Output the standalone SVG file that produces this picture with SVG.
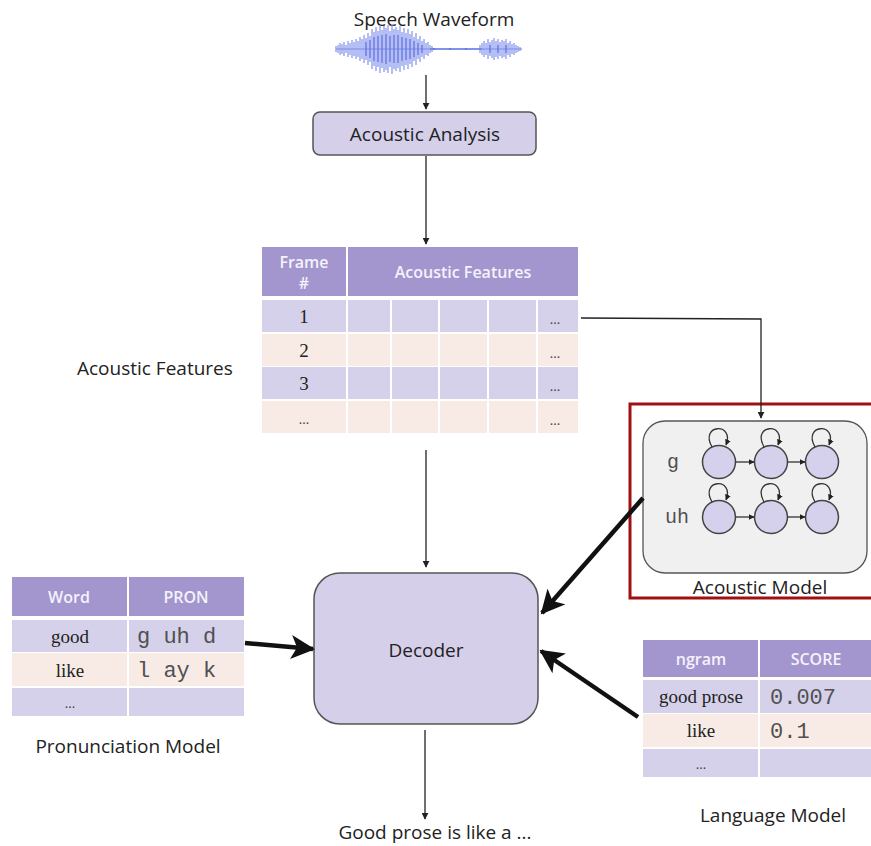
<svg xmlns="http://www.w3.org/2000/svg" width="871" height="846" viewBox="0 0 871 846">
  <style>
    .lbl { font-family: "Open Sans", "Liberation Sans", sans-serif; font-size: 19px; fill: #222; }
    .hdr { font-family: "Open Sans", "Liberation Sans", sans-serif; font-size: 16px; font-weight: 600; fill: #f4f2fa; }
    .ser { font-family: "Liberation Serif", "Times New Roman", serif; font-size: 19px; fill: #222; }
    .dots { font-family: "Liberation Serif", serif; font-size: 14px; fill: #444; }
    .mono { font-family: "Liberation Mono", "Courier New", monospace; font-size: 22px; fill: #505050; }
    .th { fill: #a396cf; }
    .rl { fill: #d6d1ea; }
    .rp { fill: #f8ebe6; }
    .box { fill: #d5cfea; stroke: #555; stroke-width: 1.5; }
    .thin { stroke: #222; stroke-width: 1.3; fill: none; }
    .thick { stroke: #111; stroke-width: 4.5; fill: none; }
    .state { fill: #d5d1ec; stroke: #444; stroke-width: 1.5; }
    .loop { stroke: #333; stroke-width: 1.3; fill: none; }
    .wave { stroke: #8e9ced; stroke-width: 1.3; }
    .wave2 { stroke: #5d6fe2; stroke-width: 1.2; }
  </style>
  <defs>
    <marker id="ah" viewBox="0 0 10 10" refX="9" refY="5" markerWidth="7" markerHeight="7" markerUnits="userSpaceOnUse" orient="auto">
      <path d="M0,0 L10,5 L0,10 z" fill="#222"/>
    </marker>
    <marker id="ahs" viewBox="0 0 10 10" refX="9" refY="5" markerWidth="6" markerHeight="6" markerUnits="userSpaceOnUse" orient="auto">
      <path d="M0,0 L10,5 L0,10 z" fill="#222"/>
    </marker>
    <marker id="big" viewBox="0 0 12 12" refX="11" refY="6" markerWidth="24" markerHeight="24" markerUnits="userSpaceOnUse" orient="auto">
      <path d="M0,0 L12,6 L0,12 L3,6 z" fill="#111"/>
    </marker>
    <g id="selfloop">
      <path class="loop" d="M-7,-15 C-20,-38 16,-40 7,-17" marker-end="url(#ahs)"/>
    </g>
    <filter id="soft" x="-5%" y="-20%" width="110%" height="140%">
      <feGaussianBlur stdDeviation="0.7"/>
    </filter>
  </defs>

  <rect width="871" height="846" fill="#ffffff"/>

  <!-- speech waveform input -->
  <g id="waveform">
    <text class="lbl" x="434" y="26" text-anchor="middle">Speech Waveform</text>
    <g filter="url(#soft)">
      <line class="wave" x1="336" y1="49" x2="522" y2="49"/>
      <path class="wave" d="M336,46v6 M338,45v8 M340,43v12 M342,44v10 M344,42v14 M346,45v8 M348,41v16 M350,43v12 M352,40v18 M354,42v14 M356,39v20 M358,41v16 M360,37v24 M362,39v20 M364,35v28 M366,38v22 M368,33v32 M370,36v26 M372,29v40 M374,32v34 M376,27v44 M378,31v36 M380,25v48 M382,30v38 M384,26v46 M386,28v42 M388,25v48 M390,31v36 M392,24v50 M394,29v40 M396,27v44 M398,30v38 M400,26v46 M402,32v34 M404,28v42 M406,33v32 M408,29v40 M410,34v30 M412,31v36 M414,37v24 M416,33v32 M418,39v20 M420,36v26 M422,41v16 M424,39v20 M426,43v12 M428,42v14 M430,45v8 M432,46v6 M480,45v8 M482,43v12 M484,41v16 M486,43v12 M488,39v20 M490,42v14 M492,40v18 M494,38v22 M496,41v16 M498,39v20 M500,42v14 M502,40v18 M504,41v16 M506,39v20 M508,43v12 M510,41v16 M512,44v10 M514,43v12 M516,45v8 M518,46v6 M520,47v4"/>
      <path class="wave2" d="M366,42v14 M370,40v18 M374,37v24 M378,36v26 M382,35v28 M386,34v30 M390,36v26 M394,35v28 M398,35v28 M402,37v24 M406,38v22 M410,39v20 M414,41v16 M418,43v12 M422,45v8 M434,48v2 M450,48v2 M466,48v2 M490,45v8 M498,45v8 M506,45v8"/>
      <line class="wave2" x1="430" y1="49" x2="482" y2="49"/>
    </g>
  </g>

  <!-- acoustic analysis -->
  <g id="acoustic-analysis">
    <rect class="box" x="313" y="112" width="223" height="43" rx="7"/>
    <text class="lbl" x="425" y="141" text-anchor="middle">Acoustic Analysis</text>
  </g>

  <!-- feature frame table -->
  <g id="feature-table">
    <rect class="th" x="262" y="247" width="84" height="49"/>
    <rect class="th" x="348" y="247" width="230" height="49"/>
    <text class="hdr" x="304" y="268" text-anchor="middle">Frame</text>
    <text class="hdr" x="304" y="289" text-anchor="middle">#</text>
    <text class="hdr" x="463" y="278" text-anchor="middle">Acoustic Features</text>

    <g class="rl">
      <rect x="262" y="300" width="84" height="32"/>
      <rect x="348" y="300" width="42" height="32"/>
      <rect x="392" y="300" width="46" height="32"/>
      <rect x="440" y="300" width="47" height="32"/>
      <rect x="489" y="300" width="47" height="32"/>
      <rect x="538" y="300" width="40" height="32"/>
      <rect x="262" y="367" width="84" height="32"/>
      <rect x="348" y="367" width="42" height="32"/>
      <rect x="392" y="367" width="46" height="32"/>
      <rect x="440" y="367" width="47" height="32"/>
      <rect x="489" y="367" width="47" height="32"/>
      <rect x="538" y="367" width="40" height="32"/>
    </g>
    <g class="rp">
      <rect x="262" y="334" width="84" height="32"/>
      <rect x="348" y="334" width="42" height="32"/>
      <rect x="392" y="334" width="46" height="32"/>
      <rect x="440" y="334" width="47" height="32"/>
      <rect x="489" y="334" width="47" height="32"/>
      <rect x="538" y="334" width="40" height="32"/>
      <rect x="262" y="401" width="84" height="32"/>
      <rect x="348" y="401" width="42" height="32"/>
      <rect x="392" y="401" width="46" height="32"/>
      <rect x="440" y="401" width="47" height="32"/>
      <rect x="489" y="401" width="47" height="32"/>
      <rect x="538" y="401" width="40" height="32"/>
    </g>
    <text class="ser" x="304" y="323" text-anchor="middle">1</text>
    <text class="ser" x="304" y="357" text-anchor="middle">2</text>
    <text class="ser" x="304" y="390" text-anchor="middle">3</text>
    <text class="dots" x="304" y="424" text-anchor="middle">...</text>
    <text class="dots" x="555" y="324" text-anchor="middle">...</text>
    <text class="dots" x="555" y="358" text-anchor="middle">...</text>
    <text class="dots" x="555" y="391" text-anchor="middle">...</text>
    <text class="dots" x="555" y="425" text-anchor="middle">...</text>
  </g>
  <text class="lbl" x="77" y="375">Acoustic Features</text>

  <!-- acoustic model (HMM) -->
  <g id="acoustic-model">
    <rect x="630" y="404" width="250" height="194" fill="none" stroke="#a01010" stroke-width="3"/>
    <rect x="643" y="421" width="224" height="152" rx="22" fill="#f0f0f0" stroke="#555" stroke-width="1.3"/>
    <text class="mono" x="667" y="468" style="font-size:20px">g</text>
    <text class="mono" x="665" y="523" style="font-size:20px">uh</text>
    <g id="hmm-g">
      <circle class="state" cx="719" cy="462" r="16.5"/>
      <circle class="state" cx="771" cy="462" r="16.5"/>
      <circle class="state" cx="822" cy="462" r="16.5"/>
      <use href="#selfloop" x="719" y="462"/>
      <use href="#selfloop" x="771" y="462"/>
      <use href="#selfloop" x="822" y="462"/>
      <line class="loop" x1="735.5" y1="462" x2="754" y2="462" marker-end="url(#ahs)"/>
      <line class="loop" x1="787.5" y1="462" x2="805" y2="462" marker-end="url(#ahs)"/>
    </g>
    <g id="hmm-uh">
      <circle class="state" cx="719" cy="517" r="16.5"/>
      <circle class="state" cx="771" cy="517" r="16.5"/>
      <circle class="state" cx="822" cy="517" r="16.5"/>
      <use href="#selfloop" x="719" y="517"/>
      <use href="#selfloop" x="771" y="517"/>
      <use href="#selfloop" x="822" y="517"/>
      <line class="loop" x1="735.5" y1="517" x2="754" y2="517" marker-end="url(#ahs)"/>
      <line class="loop" x1="787.5" y1="517" x2="805" y2="517" marker-end="url(#ahs)"/>
    </g>
    <text class="lbl" x="760" y="594" text-anchor="middle">Acoustic Model</text>
  </g>

  <!-- decoder -->
  <g id="decoder">
    <rect class="box" x="314" y="573" width="224" height="151" rx="26"/>
    <text class="lbl" x="426" y="657" text-anchor="middle">Decoder</text>
  </g>

  <!-- pronunciation model -->
  <g id="pronunciation-model">
    <rect class="th" x="12" y="577" width="115" height="39"/>
    <rect class="th" x="129" y="577" width="115" height="39"/>
    <text class="hdr" x="69" y="603" text-anchor="middle">Word</text>
    <text class="hdr" x="186" y="603" text-anchor="middle">PRON</text>
    <rect class="rl" x="12" y="620" width="115" height="32"/>
    <rect class="rl" x="129" y="620" width="115" height="32"/>
    <rect class="rp" x="12" y="653" width="115" height="33"/>
    <rect class="rp" x="129" y="653" width="115" height="33"/>
    <rect class="rl" x="12" y="688" width="115" height="28"/>
    <rect class="rl" x="129" y="688" width="115" height="28"/>
    <text class="ser" x="70" y="643" text-anchor="middle">good</text>
    <text class="mono" x="137" y="643">g uh d</text>
    <text class="ser" x="70" y="677" text-anchor="middle">like</text>
    <text class="mono" x="137" y="677">l ay k</text>
    <text class="dots" x="70" y="708" text-anchor="middle">...</text>
    <text class="lbl" x="128" y="753" text-anchor="middle">Pronunciation Model</text>
  </g>

  <!-- language model -->
  <g id="language-model">
    <rect class="th" x="643" y="640" width="115" height="37"/>
    <rect class="th" x="760" y="640" width="111" height="37"/>
    <text class="hdr" x="701" y="665" text-anchor="middle">ngram</text>
    <text class="hdr" x="816" y="665" text-anchor="middle">SCORE</text>
    <rect class="rl" x="643" y="680" width="115" height="33"/>
    <rect class="rl" x="760" y="680" width="111" height="33"/>
    <rect class="rp" x="643" y="714" width="115" height="33"/>
    <rect class="rp" x="760" y="714" width="111" height="33"/>
    <rect class="rl" x="643" y="749" width="115" height="28"/>
    <rect class="rl" x="760" y="749" width="111" height="28"/>
    <text class="ser" x="701" y="703" text-anchor="middle">good prose</text>
    <text class="mono" x="770" y="704">0.007</text>
    <text class="ser" x="701" y="737" text-anchor="middle">like</text>
    <text class="mono" x="770" y="738">0.1</text>
    <text class="dots" x="701" y="769" text-anchor="middle">...</text>
    <text class="lbl" x="773" y="822" text-anchor="middle">Language Model</text>
  </g>

  <!-- output -->
  <text id="output" class="lbl" x="435" y="839" text-anchor="middle">Good prose is like a ...</text>

  <!-- connectors -->
  <g id="connectors">
    <line class="thin" x1="426" y1="75" x2="426" y2="109" marker-end="url(#ah)"/>
    <line class="thin" x1="426" y1="156" x2="426" y2="244" marker-end="url(#ah)"/>
    <polyline class="thin" points="581,318 761,319 761,418" marker-end="url(#ah)"/>
    <line class="thin" x1="426" y1="450" x2="426" y2="567" marker-end="url(#ah)"/>
    <line class="thin" x1="425" y1="730" x2="425" y2="819" marker-end="url(#ah)"/>
    <line class="thick" x1="245" y1="643" x2="313" y2="649" marker-end="url(#big)"/>
    <line class="thick" x1="643" y1="498" x2="542" y2="613" marker-end="url(#big)"/>
    <line class="thick" x1="638" y1="717" x2="541" y2="651" marker-end="url(#big)"/>
  </g>
</svg>
